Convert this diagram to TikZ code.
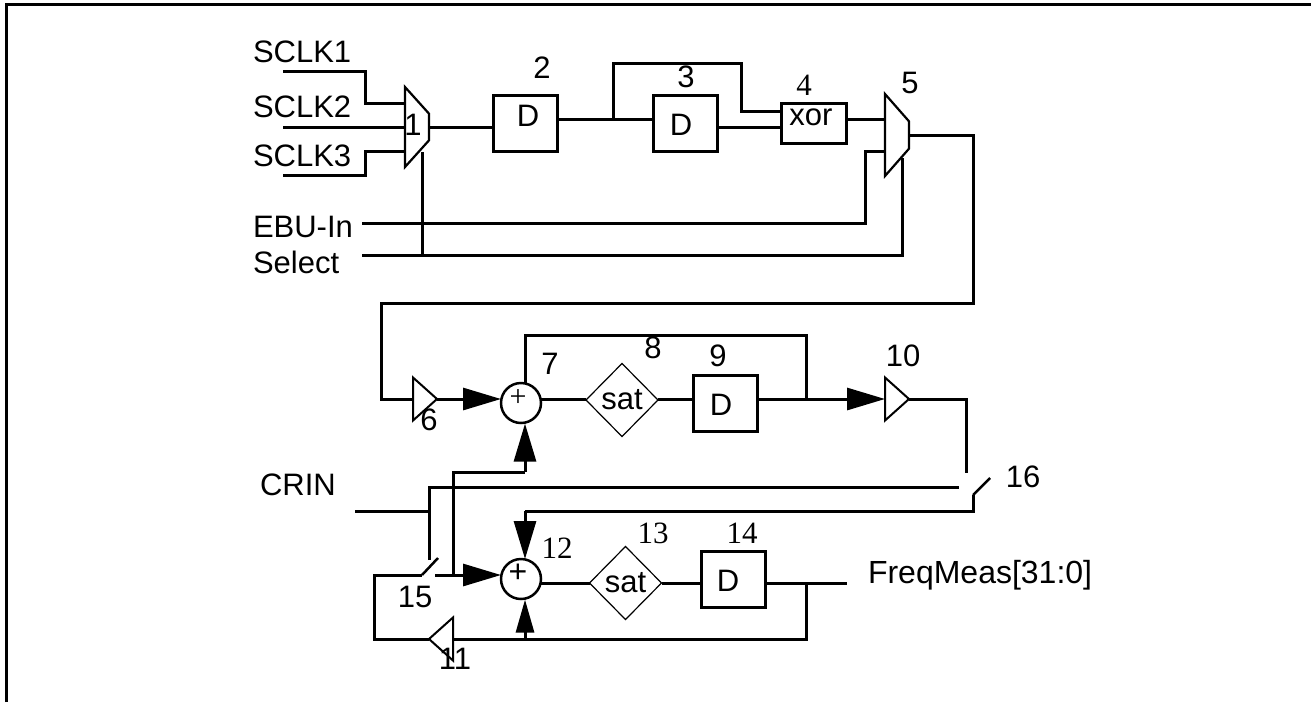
\documentclass[tikz,border=0pt]{standalone}
\usepackage{fontspec}
\setmainfont{Liberation Sans}
\newfontfamily\serifnum{Liberation Serif}
\usetikzlibrary{arrows.meta,calc,positioning,shapes.geometric}
\tikzset{
  wire/.style={line width=3pt},
  bigarrow/.style={wire,-{Triangle[length=38pt,width=22pt]}},
  lab/.style={inner sep=0pt,outer sep=0pt,font=\fontsize{31}{36}\selectfont},
  snum/.style={inner sep=0pt,outer sep=0pt,font=\fontsize{31}{36}\selectfont\serifnum},
  dff/.style={draw,line width=3pt,inner sep=0pt,outer sep=0pt,minimum width=64pt,minimum height=56pt,font=\fontsize{31}{36}\selectfont},
  mux/.style={draw,line width=2.2pt,trapezium,trapezium left angle=45,trapezium right angle=45,trapezium stretches=true,rotate=-90,inner sep=1pt,outer sep=0pt,minimum height=24pt},
  amp/.style={draw,line width=2pt,isosceles triangle,isosceles triangle apex angle=84,isosceles triangle stretches=true,inner sep=1pt,outer sep=0pt,minimum width=43pt,minimum height=24pt},
  sumnode/.style={draw,circle,line width=2.5pt,inner sep=0pt,outer sep=0pt,minimum size=40pt},
  satbox/.style={draw,diamond,line width=1.2pt,inner sep=0pt,outer sep=0pt,minimum width=72pt,minimum height=73pt,font=\fontsize{31}{36}\selectfont},
}
\begin{document}
\begin{tikzpicture}[x=1pt,y=-1pt]
  \useasboundingbox (0,0) rectangle (1311,702);
  \draw[wire] (6.5,702) -- (6.5,4.5) -- (1311,4.5);

  \node[lab,anchor=base west] (sclkone) at (253,62) {SCLK1};
  \node[lab,anchor=base west] (sclktwo) at (253,117) {SCLK2};
  \node[lab,anchor=base west] (sclkthree) at (253,166) {SCLK3};
  \node[lab,anchor=base west] (ebuin) at (253,237) {EBU-In};
  \node[lab,anchor=base west] (selectin) at (253,273) {Select};
  \node[lab,anchor=base west] (crin) at (260,495) {CRIN};
  \node[lab,anchor=base west,font=\fontsize{32}{36}\selectfont] (freqmeas) at (868,583) {FreqMeas[31:0]};

  \node[mux,minimum width=80pt] (muxone) at (417,127) {};
  \node[dff] (dfftwo) at (525,123) {};
  \node[lab] at (528,116) {D};
  \node[dff] (dffthree) at (685,123) {};
  \node[lab] at (681,125) {D};
  \node[draw,line width=3pt,inner sep=0pt,outer sep=0pt,minimum width=65pt,minimum height=40pt,lab] (xorgate) at (813.5,123) {};
  \node[lab] at (811,117) {xor};
  \node[mux,minimum width=82pt] (muxfive) at (897,135) {};

  \node[amp,anchor=apex] (ampsix) at (437,399) {};
  \node[sumnode] (sumseven) at (521,403) {};
  \node[font=\fontsize{30}{30}\selectfont\serifnum,inner sep=0pt] at (518,398) {+};
  \node[satbox] (sateight) at (622,400) {sat};
  \node[dff] (dffnine) at (725,403) {};
  \node[lab] at (721,405) {D};
  \node[amp,anchor=apex] (ampten) at (909,399) {};

  \node[sumnode] (sumtwelve) at (521,579) {};
  \node[font=\fontsize{32}{32}\selectfont,inner sep=0pt] at (518,573) {+};
  \node[satbox] (satthirteen) at (625.5,583) {sat};
  \node[dff] (dfffourteen) at (733.5,579) {};
  \node[lab] at (728,581) {D};
  \node[amp,anchor=apex,shape border rotate=180] (ampeleven) at (429,639) {};

  \node[lab] at (413,125) {1};
  \node[lab] at (542,68) {2};
  \node[lab] at (686,77) {3};
  \node[snum] at (804,85) {4};
  \node[lab] at (910,83) {5};
  \node[lab] at (429,420) {6};
  \node[lab] at (550,364) {7};
  \node[lab] at (653,348) {8};
  \node[lab] at (718,356) {9};
  \node[lab] at (903,356) {10};
  \node[lab] at (455,659) {11};
  \node[snum] at (557,548) {12};
  \node[snum] at (653,533) {13};
  \node[snum] at (742,533) {14};
  \node[lab] at (415,597) {15};
  \node[lab] at (1023,477) {16};

  \coordinate (clkonestart) at (283,71);
  \coordinate (clktwostart) at (283,127);
  \coordinate (clkthreestart) at (283,175);
  \coordinate (ebustart) at (362,223);
  \coordinate (selstart) at (362,255);
  \coordinate (crinstart) at (355,511);
  \coordinate (freqend) at (847,583);
  \draw[wire] (clkonestart) -- ++(82,0) |- (405,103);
  \draw[wire] (clktwostart) -- (405,127);
  \draw[wire] (clkthreestart) -- ++(82,0) |- (405,151);
  \draw[wire] (429,127) -- (dfftwo.west |- 429,127);
  \draw[wire] (dfftwo.east |- 0,119) -- (dffthree.west |- 0,119);
  \draw[wire] (613,119) |- (741,63) |- (xorgate.west |- 0,111);
  \draw[wire] (dffthree.east |- 0,127) -- (xorgate.west |- 0,127);
  \draw[wire] (xorgate.east |- 0,119) -- (885,119);
  \draw[wire] (ebustart) -| (865,151) -- (885,151);
  \draw[wire] (selstart) -| (902,158);
  \draw[wire] (422,255) -- (422,152);
  \draw[wire] (909,135) -| (973,303) -| (381,399) -- (413,399);
  \draw[bigarrow] (ampsix.apex) -- (501,399);
  \draw[wire] (541,399) -- (sateight.west |- 0,399);
  \draw[wire] (sateight.east |- 0,399) -- (dffnine.west |- 0,399);
  \draw[bigarrow] (dffnine.east |- 0,399) -- (885,399);
  \draw[wire] (525,383.6) |- (806,335) -- (806,399);
  \draw[wire] (ampten.apex) -| (966,473);
  \coordinate (swfifteen) at (422,575);
  \coordinate (swsixteen) at (973,495);
  \draw[wire] (429,560) |- (959,487);
  \draw[wire] (crinstart) -- (429,511);
  \draw[wire,line width=2.5pt] (swsixteen) -- (990,478);
  \draw[wire] (swsixteen) |- (525,511);
  \draw[bigarrow] (525,511) -- (525,559);
  \draw[wire,line width=2.5pt] (swfifteen) -- (438,558);
  \draw[bigarrow] (435,575) -- (501,575);
  \draw[wire] (453,575) |- (525,472);
  \draw[bigarrow] (525,472) -- (525,423.6);
  \draw[wire] (541,583) -- (satthirteen.west |- 0,583);
  \draw[wire] (satthirteen.east |- 0,583) -- (dfffourteen.west |- 0,583);
  \draw[wire] (dfffourteen.east |- 0,583) -- (freqend);
  \draw[wire] (806,583) |- (453,639);
  \draw[wire] (ampeleven.apex) -| (374,575) -- (swfifteen);
  \draw[wire,-{Triangle[length=33pt,width=18pt]}] (525,639) -- (525,599.6);
\end{tikzpicture}
\end{document}
